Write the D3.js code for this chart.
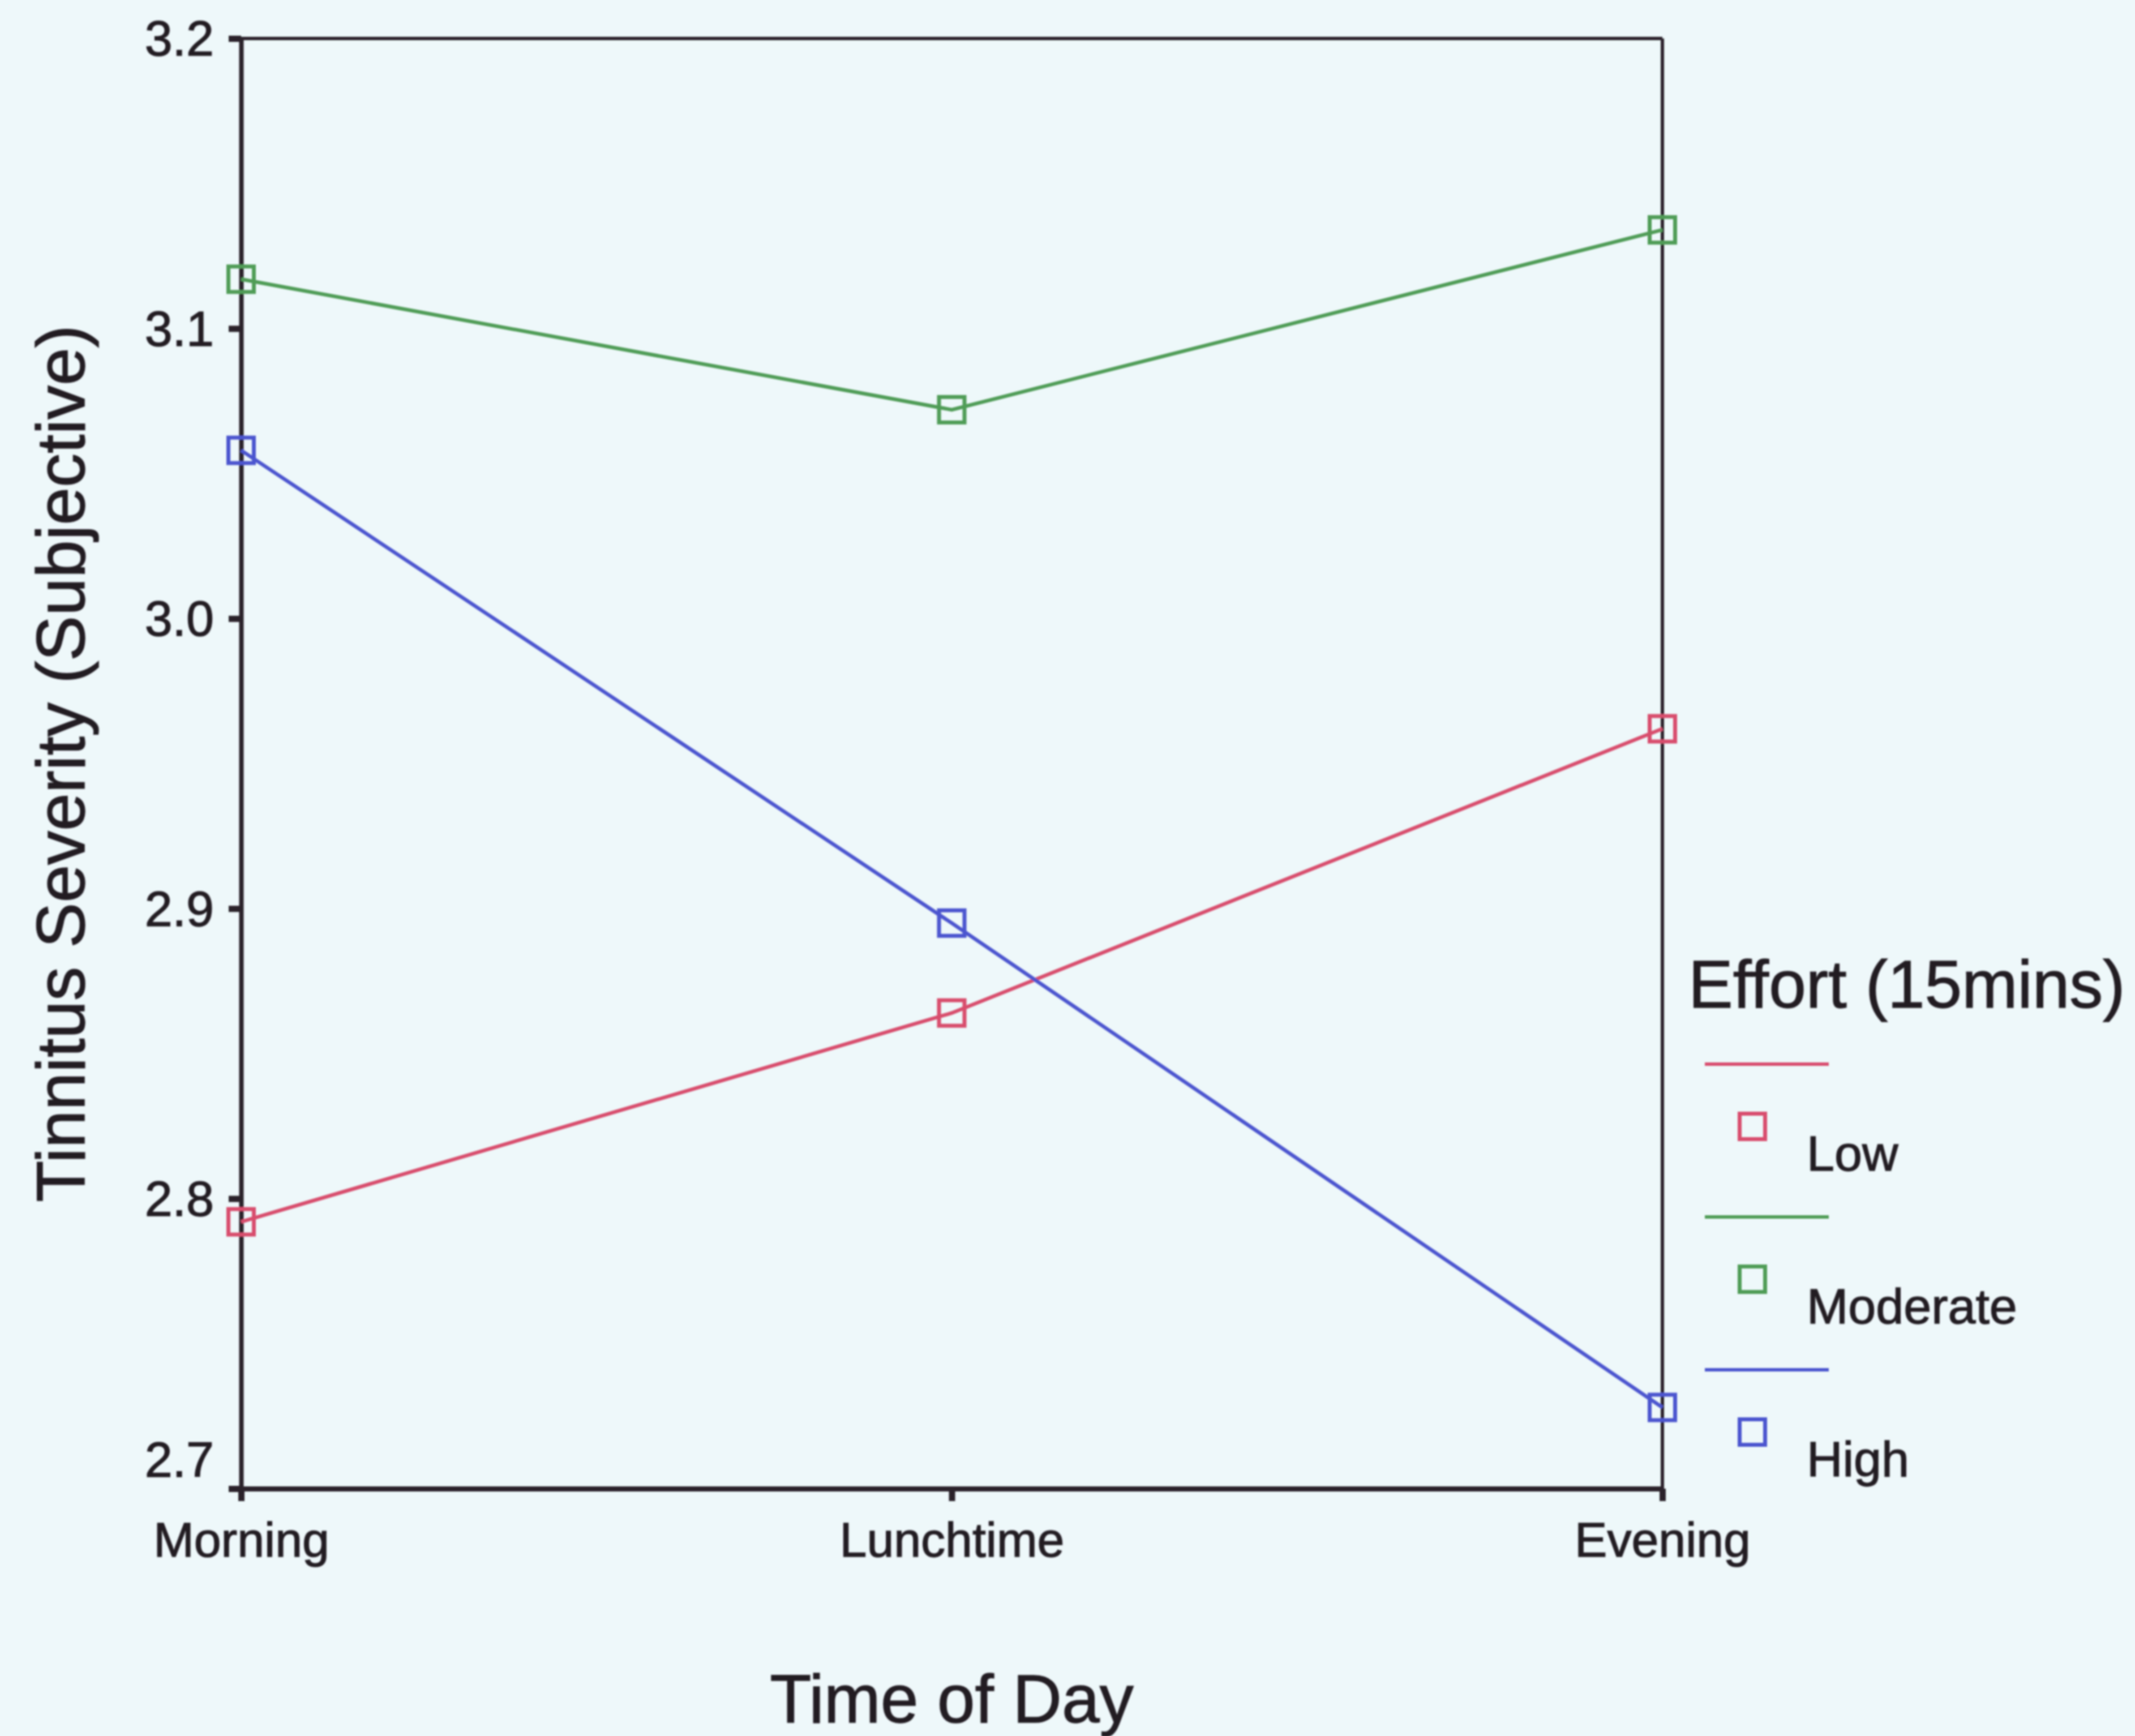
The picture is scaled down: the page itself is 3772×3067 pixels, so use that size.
<!DOCTYPE html>
<html>
<head>
<meta charset="utf-8">
<script src="https://cdn.jsdelivr.net/npm/d3@7/dist/d3.min.js"></script>
<style>
  html, body { margin: 0; padding: 0; background: #eef8fa; }
  svg { display: block; }
  text { font-family: "Liberation Sans", Arial, Helvetica, sans-serif; fill: #231b24; stroke: #231b24; stroke-width: 1.4px; }
</style>
</head>
<body>
<svg id="chart" width="3772" height="3067"></svg>
<script>
// Mean tinnitus severity by time of day, one line per effort level
const timesOfDay = ["Morning", "Lunchtime", "Evening"];
const effortLevels = ["Low", "Moderate", "High"];
const lowValues      = [2.792, 2.864, 2.962];
const moderateValues = [3.117, 3.072, 3.134];
const highValues     = [3.058, 2.895, 2.728];
const yTickValues = [2.7, 2.8, 2.9, 3.0, 3.1, 3.2];
const seriesColors = ["#d84d6d", "#4f9c57", "#4c54cf"];

const xTitle = "Time of Day";
const yTitle = "Tinnitus Severity (Subjective)";
const legendTitle = "Effort (15mins)";

const series = [
  { name: effortLevels[0], values: lowValues,      color: seriesColors[0] },
  { name: effortLevels[1], values: moderateValues, color: seriesColors[1] },
  { name: effortLevels[2], values: highValues,     color: seriesColors[2] }
];

const svg = d3.select("#chart");
const W = 3772, H = 3067;
const plot = { left: 426, right: 2937, top: 68, bottom: 2630 };
const axisColor = "#2a2129";

// soft scan look
const defs = svg.append("defs");
defs.append("filter").attr("id", "soft")
  .append("feGaussianBlur").attr("stdDeviation", 1.4);

svg.append("rect").attr("width", W).attr("height", H).attr("fill", "#eef8fa");

const root = svg.append("g").attr("filter", "url(#soft)");

const x = d3.scalePoint().domain(timesOfDay).range([plot.left, plot.right]).padding(0);
const y = d3.scaleLinear().domain([2.7, 3.2]).range([plot.bottom, plot.top]);

// frame: top and right edges
root.append("line")
  .attr("x1", plot.left).attr("x2", plot.right)
  .attr("y1", plot.top).attr("y2", plot.top)
  .attr("stroke", axisColor).attr("stroke-width", 6);
root.append("line")
  .attr("x1", plot.right).attr("x2", plot.right)
  .attr("y1", plot.top).attr("y2", plot.bottom)
  .attr("stroke", axisColor).attr("stroke-width", 6);

// y axis
const yAxis = root.append("g")
  .attr("transform", `translate(${plot.left},0)`)
  .call(d3.axisLeft(y).tickValues(yTickValues).tickSize(22).tickSizeOuter(0)
    .tickPadding(26).tickFormat(d3.format(".1f")));
yAxis.select(".domain").attr("stroke", axisColor).attr("stroke-width", 8);
yAxis.selectAll(".tick line").attr("stroke", axisColor).attr("stroke-width", 11);
yAxis.selectAll(".tick text")
  .attr("font-size", 88)
  .style("font-family", '"Liberation Sans", Arial, sans-serif')
  .attr("fill", "#231b24")
  .attr("dy", d => d === 2.7 ? "-0.25em" : "0.34em");

// x axis
const xAxis = root.append("g")
  .attr("transform", `translate(0,${plot.bottom})`)
  .call(d3.axisBottom(x).tickSize(22).tickSizeOuter(0).tickPadding(37));
xAxis.select(".domain").attr("stroke", axisColor).attr("stroke-width", 9);
xAxis.selectAll(".tick line").attr("stroke", axisColor).attr("stroke-width", 11);
xAxis.selectAll(".tick text")
  .attr("font-size", 86)
  .style("font-family", '"Liberation Sans", Arial, sans-serif')
  .attr("fill", "#231b24");

// axis titles
root.append("text")
  .attr("x", (plot.left + plot.right) / 2).attr("y", 3043)
  .attr("text-anchor", "middle").attr("font-size", 120)
  .text(xTitle);
root.append("text")
  .attr("transform", `translate(149,${(plot.top + plot.bottom) / 2}) rotate(-90)`)
  .attr("text-anchor", "middle").attr("font-size", 120)
  .text(yTitle);

// lines
const line = d3.line()
  .x((d, i) => x(timesOfDay[i]))
  .y(d => y(d));

const markerSize = 45;

series.forEach(s => {
  root.append("path")
    .attr("d", line(s.values))
    .attr("fill", "none")
    .attr("stroke", s.color)
    .attr("stroke-width", 6.5);
});
series.forEach(s => {
  root.selectAll(null)
    .data(s.values)
    .join("rect")
    .attr("x", (d, i) => x(timesOfDay[i]) - markerSize / 2)
    .attr("y", d => y(d) - markerSize / 2)
    .attr("width", markerSize).attr("height", markerSize)
    .attr("fill", "none")
    .attr("stroke", s.color)
    .attr("stroke-width", 7);
});

// legend
const legend = root.append("g");
legend.append("text")
  .attr("x", 2983).attr("y", 1780)
  .attr("font-size", 118)
  .text(legendTitle);

const legendTop = 1880, legendStep = 270;
series.forEach((s, i) => {
  const y0 = legendTop + i * legendStep;
  legend.append("line")
    .attr("x1", 3012).attr("x2", 3231)
    .attr("y1", y0).attr("y2", y0)
    .attr("stroke", s.color).attr("stroke-width", 6);
  legend.append("rect")
    .attr("x", 3096 - markerSize / 2).attr("y", y0 + 110 - markerSize / 2)
    .attr("width", markerSize).attr("height", markerSize)
    .attr("fill", "none").attr("stroke", s.color).attr("stroke-width", 7);
  legend.append("text")
    .attr("x", 3192).attr("y", y0 + 188)
    .attr("font-size", 88)
    .text(s.name);
});
</script>
</body>
</html>
